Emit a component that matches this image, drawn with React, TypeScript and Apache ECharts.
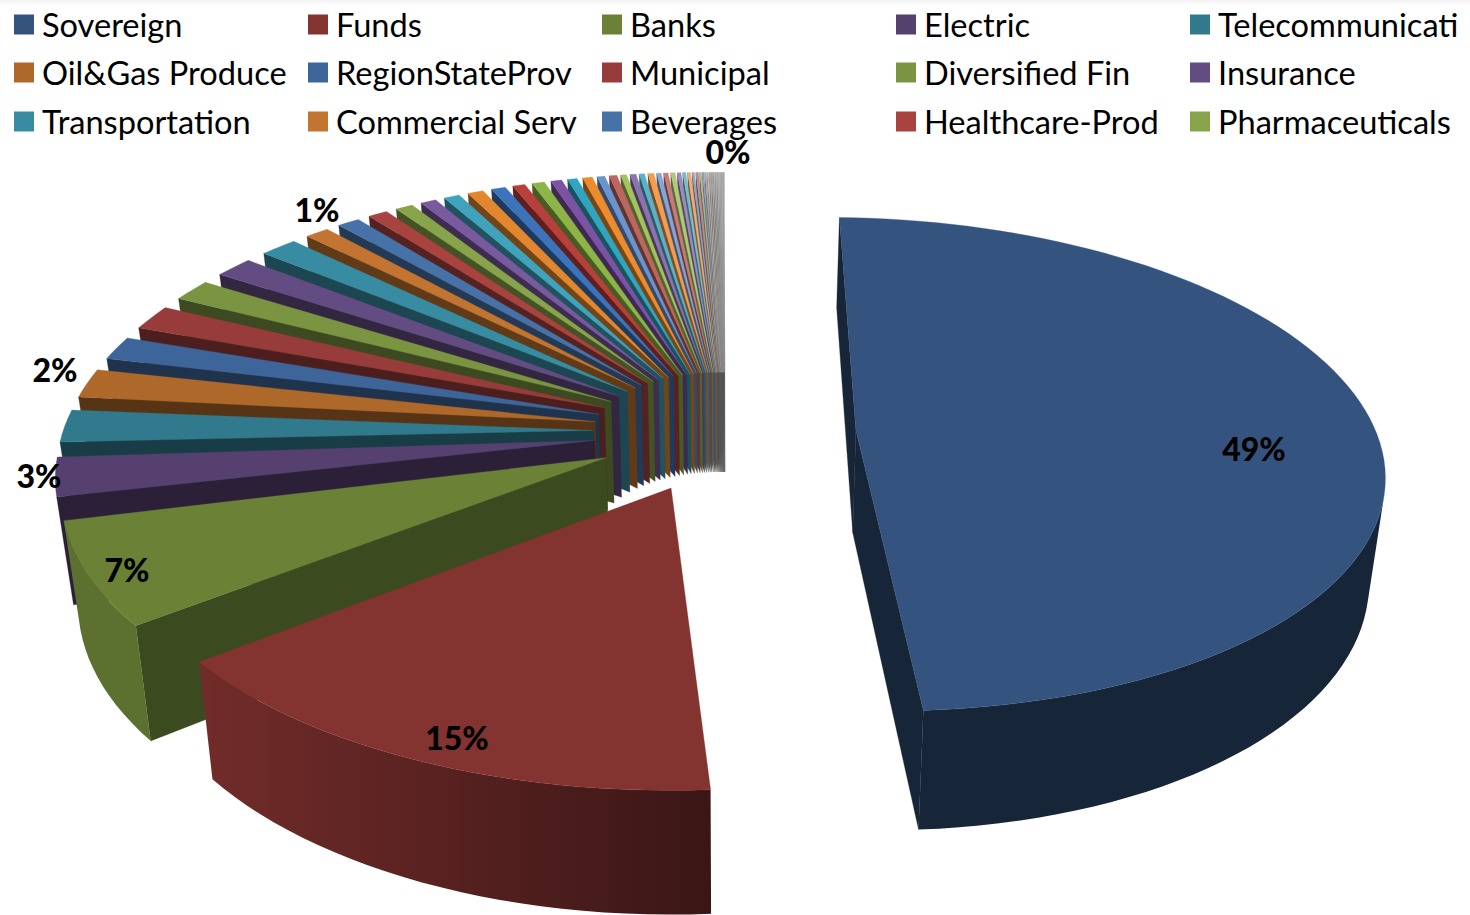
import React, { useEffect, useRef } from "react";
import * as echarts from "echarts";

const legendNames = [
  "Sovereign", "Funds", "Banks", "Electric", "Telecommunicati",
  "Oil&Gas Produce", "RegionStateProv", "Municipal", "Diversified Fin", "Insurance",
  "Transportation", "Commercial Serv", "Beverages", "Healthcare-Prod", "Pharmaceuticals",
];
const legendValues = [48.8, 15.45, 6.55, 2.8, 2.4, 2.2, 1.85, 1.95, 1.75, 1.7, 1.65, 1.1, 1.03, 0.9, 0.8];
const tailValues = [
  0.72, 0.72, 0.72, 0.66, 0.57, 0.57, 0.5, 0.44, 0.44, 0.35, 0.35,
  0.27, 0.27, 0.24, 0.27, 0.2, 0.2, 0.2, 0.16, 0.14, 0.14, 0.1, 0.12, 0.08,
  0.07, 0.07, 0.06, 0.06, 0.06, 0.05, 0.05, 0.05, 0.04, 0.04, 0.04, 0.03, 0.02,
];
const values = [...legendValues, ...tailValues];
const names = values.map((_, i) => legendNames[i] ?? `Other ${i + 1}`);

const colourRounds = [
  ["#34547F", "#833330", "#6A8136", "#56406F", "#317A8D", "#AD682A"],
  ["#3D659A", "#973C3A", "#7A9442", "#634C82", "#388CA1", "#C27430"],
  ["#4672A8", "#A8433F", "#88A44A", "#7A5A9E", "#3FA3BE", "#E3872F"],
  ["#3C74BC", "#B93F3C", "#8DB546", "#7C52A5", "#2FA5BF", "#EE8B2C"],
  ["#6994CE", "#BE6560", "#A3C35B", "#8D72B0", "#58B3C8", "#F59C4D"],
  ["#84A6D6", "#C77A77", "#B0C977", "#9E8ABB", "#78BBCB", "#F0AC70"],
  ["#8FA5C4", "#B98D8B", "#ABB98E", "#A096B0", "#8FB5BF", "#D9AE8A"],
  ["#A0A8B4", "#B0A0A0", "#A8AE9C", "#A6A2AC", "#A0AEB2", "#B8AA9E"],
  ["#A8A8A8", "#ABABAB", "#A6A6A6", "#ADADAD", "#A8A8A8", "#ABABAB"],
];
const colourOf = (i: number) => colourRounds[Math.floor(i / 6) % colourRounds.length][i % 6];

// where the percentage labels sit, with the slice whose value they print
const percentLabels = [
  { slice: 0, x: 1254, y: 448 },
  { slice: 1, x: 457, y: 737 },
  { slice: 2, x: 127, y: 569 },
  { slice: 3, x: 39, y: 475 },
  { slice: 5, x: 55, y: 369 },
  { slice: 11, x: 317, y: 209 },
  { slice: values.length - 1, x: 728, y: 151 },
];

// projection of the tilted pie
const view = {
  cx: 725, cy: 431, rx: 525, ry: 242.5, dist: 7.2, shear: 14, roll: 12, explode: 0.25,
  height: 103, vanishX: 730, converge: 0.025, startDeg: -1.6, insetDeg: 1.1, insetShare: 0.22,
};
const rad = (d: number) => (d * Math.PI) / 180;

function project(X: number, Y: number, down: boolean): number[] {
  const s = view.dist / (view.dist + Y);
  let px = view.cx + (X * view.rx + view.shear * Y) * s;
  let py = view.cy + (view.roll * X - Y * view.ry) * s;
  if (down) {
    py += view.height * s;
    px = view.vanishX + (px - view.vanishX) * (1 - view.converge);
  }
  return [px, py];
}

function shade(hex: string, k: number): string {
  const n = parseInt(hex.slice(1), 16);
  const c = [(n >> 16) & 255, (n >> 8) & 255, n & 255].map((v) => Math.round(v * k));
  return `rgb(${c[0]},${c[1]},${c[2]})`;
}

const cross = (a: number[], b: number[]) => a[0] * b[1] - a[1] * b[0];
const sub = (a: number[], b: number[]) => [a[0] - b[0], a[1] - b[1]];

const total = values.reduce((a, b) => a + b, 0);
const startDegs: number[] = [];
values.reduce((acc, v, i) => {
  startDegs[i] = view.startDeg + (acc / total) * 360;
  return acc + v;
}, 0);

function wallVisible(a: number[], r: number[], aDown: number[], inner: number[]): boolean {
  const e = sub(r, a);
  return cross(e, sub(aDown, a)) * cross(e, sub(inner, a)) < 0;
}

function outerShade(deg: number): number {
  if (deg < 175) return 0.44;
  return Math.min(0.87, 0.52 + ((deg - 175) / 53) * 0.34);
}

function sliceChildren(i: number) {
  const colour = colourOf(i);
  const fullSweep = (values[i] / total) * 360;
  const inset = i >= 3 ? Math.min(view.insetDeg, fullSweep * view.insetShare) : 0;
  const a0 = startDegs[i] + inset;
  const sweep = fullSweep - inset;
  const a1 = a0 + sweep;
  const mid = startDegs[i] + fullSweep / 2;
  const ox = view.explode * Math.sin(rad(mid));
  const oy = view.explode * Math.cos(rad(mid));
  const steps = Math.max(2, Math.ceil(sweep / 2));
  const rimDeg: number[] = [];
  for (let k = 0; k <= steps; k++) rimDeg.push(a0 + (sweep * k) / steps);
  const rim = (d: number, down: boolean) =>
    project(ox + Math.sin(rad(d)), oy + Math.cos(rad(d)), down);
  const apex = project(ox, oy, false);
  const apexDown = project(ox, oy, true);
  const inner = rim(mid, false);
  const children: any[] = [];
  const edgeFill = shade(colour, i === 0 ? 0.44 : i === 2 ? 0.57 : 0.5);
  [a0, a1].forEach((d) => {
    const r = rim(d, false);
    if (wallVisible(apex, r, apexDown, inner)) {
      children.push({
        type: "polygon",
        shape: { points: [apex, r, rim(d, true), apexDown] },
        style: { fill: edgeFill, stroke: edgeFill, lineWidth: 0.3 },
      });
    }
  });
  const front = rimDeg.filter((d, k) => {
    const next = rimDeg[k + 1] ?? d;
    const prev = rimDeg[k - 1] ?? d;
    const p = rim(k < steps ? d : prev, false);
    const q = rim(k < steps ? next : d, false);
    return wallVisible(p, q, rim(k < steps ? d : prev, true), apex);
  });
  if (front.length > 1) {
    const first = front[0];
    const last = front[front.length - 1];
    const fill = new echarts.graphic.LinearGradient(0, 0, 1, 0, [
      { offset: 0, color: shade(colour, outerShade(last)) },
      { offset: 1, color: shade(colour, outerShade(first)) },
    ]);
    children.push({
      type: "polygon",
      shape: {
        points: [
          ...front.map((d) => rim(d, false)),
          ...[...front].reverse().map((d) => rim(d, true)),
        ],
      },
      style: { fill },
    });
  }
  children.push({
    type: "polygon",
    shape: { points: [apex, ...rimDeg.map((d) => rim(d, false))] },
    style: { fill: colour, stroke: colour, lineWidth: 0.3 },
  });
  return children;
}

const legendCols = [14, 308, 602, 896, 1190];
const legendRows = [8, 56, 105];

export default function App() {
  const ref = useRef<HTMLDivElement>(null);
  useEffect(() => {
    document.body.style.margin = "0";
    document.body.style.overflow = "hidden";
    const chart = echarts.init(ref.current!, undefined, { renderer: "svg" });
    chart.setOption({
      animation: false,
      backgroundColor: "#ffffff",
      legend: legendNames.map((name, i) => ({
        show: true,
        data: [name],
        left: legendCols[i % 5],
        top: legendRows[Math.floor(i / 5)],
        padding: 0,
        icon: "rect",
        itemWidth: 20,
        itemHeight: 20,
        selectedMode: false,
        textStyle: {
          fontFamily: "Lato",
          fontSize: 32.6,
          color: "#000",
          lineHeight: 20,
          padding: [0, 0, 9, 3],
        },
      })),
      series: values.map((v, i) => ({
        type: "custom",
        name: names[i],
        coordinateSystem: "none",
        silent: true,
        z: 2 + values.length - i,
        itemStyle: { color: colourOf(i) },
        data: [[v]],
        renderItem: () => ({ type: "group", children: sliceChildren(i) }),
      })),
      graphic: [
        {
          type: "rect",
          shape: { x: 0, y: 0, width: 1470, height: 6 },
          z: 0,
          silent: true,
          style: {
            fill: new echarts.graphic.LinearGradient(0, 0, 0, 1, [
              { offset: 0, color: "#f3f3f3" },
              { offset: 1, color: "#ffffff" },
            ]),
          },
        },
        ...percentLabels.map((l) => ({
          type: "text",
          x: l.x,
          y: l.y,
          z: 300,
          silent: true,
          style: {
            text: `${Math.round(values[l.slice])}%`,
            font: "900 32px Lato",
            fill: "#000",
            textAlign: "center",
            textVerticalAlign: "middle",
          },
        })),
      ],
    });
    return () => chart.dispose();
  }, []);
  return <div ref={ref} style={{ width: 1470, height: 915 }} />;
}
